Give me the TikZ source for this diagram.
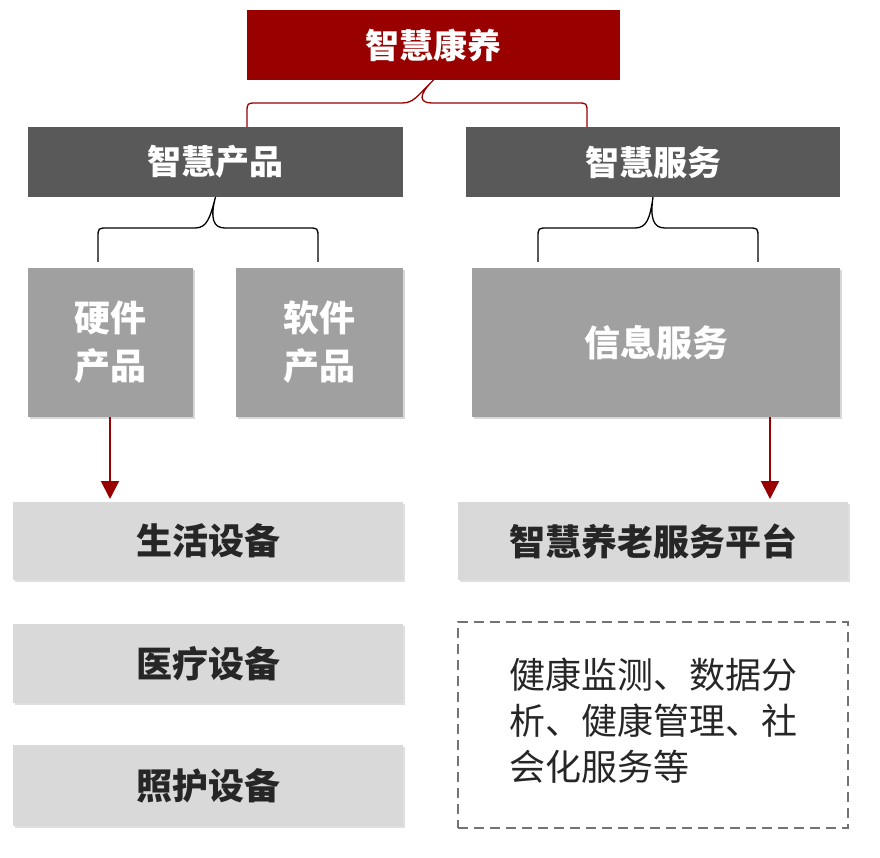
\documentclass[tikz,border=0pt]{standalone}
\usepackage{fontspec}
\setmainfont{Noto Sans CJK SC}
\usetikzlibrary{arrows.meta,shadows}
\definecolor{dred}{HTML}{990000}
\definecolor{dgray}{HTML}{595959}
\definecolor{mgray}{HTML}{A0A0A0}
\definecolor{lgray}{HTML}{D9D9D9}
\tikzset{
 box/.style={anchor=north west,inner sep=0pt,outer sep=0pt,align=center},
 topbox/.style={box,fill=dred,text=white,font=\fontsize{34}{40}\selectfont\bfseries},
 catbox/.style={box,fill=dgray,text=white,font=\fontsize{34}{40}\selectfont\bfseries},
 subbox/.style={box,fill=mgray,text=white,font=\fontsize{36}{48}\selectfont\bfseries,drop shadow={shadow xshift=2pt,shadow yshift=-2pt,fill=black!30}},
 itembox/.style={box,fill=lgray,text=black!85,font=\fontsize{36}{40}\selectfont\bfseries,drop shadow={shadow xshift=2pt,shadow yshift=-2pt,fill=black!25}},
 brace/.style={line width=1.3pt},
 arr/.style={dred,line width=2pt,-{Triangle[length=18pt,width=18pt]}}
}
\begin{document}
\begin{tikzpicture}[x=1pt,y=-1pt]
\useasboundingbox (0,0) rectangle (880,858);
\node[topbox,minimum width=373,minimum height=70] (top) at (247,10) {智慧康养};
\node[catbox,minimum width=375,minimum height=70] (prod) at (28,127) {智慧产品};
\node[catbox,minimum width=374,minimum height=70] (serv) at (466,127) {智慧服务};
\node[subbox,minimum width=165,minimum height=149] (hw) at (28,268) {硬件\\产品};
\node[subbox,minimum width=167,minimum height=149] (sw) at (236,268) {软件\\产品};
\node[subbox,minimum width=368,minimum height=149] (info) at (472,268) {信息服务};
\node[itembox,minimum width=390,minimum height=78] (life) at (13,502) {生活设备};
\node[itembox,minimum width=390,minimum height=79] (med) at (13,624) {医疗设备};
\node[itembox,minimum width=390,minimum height=81] (care) at (13,745) {照护设备};
\node[itembox,minimum width=390,minimum height=78] (plat) at (458,502) {智慧养老服务平台};
\node[box,draw=black!55,line width=2pt,dash pattern=on 10pt off 6pt,minimum width=390,minimum height=206,font=\fontsize{36}{46}\selectfont,text=black!85] (dash) at (458,622) {\begin{tabular}{@{}l@{}}健康监测、数据分\\析、健康管理、社\\会化服务等\end{tabular}};
% braces
\coordinate (b1l) at (247,127); \coordinate (b1r) at (587,127);
\draw[brace,dred] (b1l) -- (247,113) .. controls (247,103) .. (257,103) -- (402,103) .. controls (414,103) and (417,96) .. (top.south) .. controls (417,96) and (420,103) .. (432,103) -- (577,103) .. controls (587,103) .. (587,113) -- (b1r);
\coordinate (b2l) at (98,262); \coordinate (b2r) at (318,262);
\draw[brace] (b2l) -- (98,238) .. controls (98,228) .. (108,228) -- (195,228) .. controls (207,228) and (210,218) .. (prod.south) .. controls (210,218) and (213,228) .. (225,228) -- (308,228) .. controls (318,228) .. (318,238) -- (b2r);
\coordinate (b3l) at (538,262); \coordinate (b3r) at (758,262);
\draw[brace] (b3l) -- (538,238) .. controls (538,228) .. (548,228) -- (635,228) .. controls (647,228) and (650,218) .. (serv.south) .. controls (650,218) and (653,228) .. (665,228) -- (748,228) .. controls (758,228) .. (758,238) -- (b3r);
\draw[arr] (hw.south -| 110,0) -- (110,499);
\draw[arr] (info.south -| 770,0) -- (770,499);
\end{tikzpicture}
\end{document}
